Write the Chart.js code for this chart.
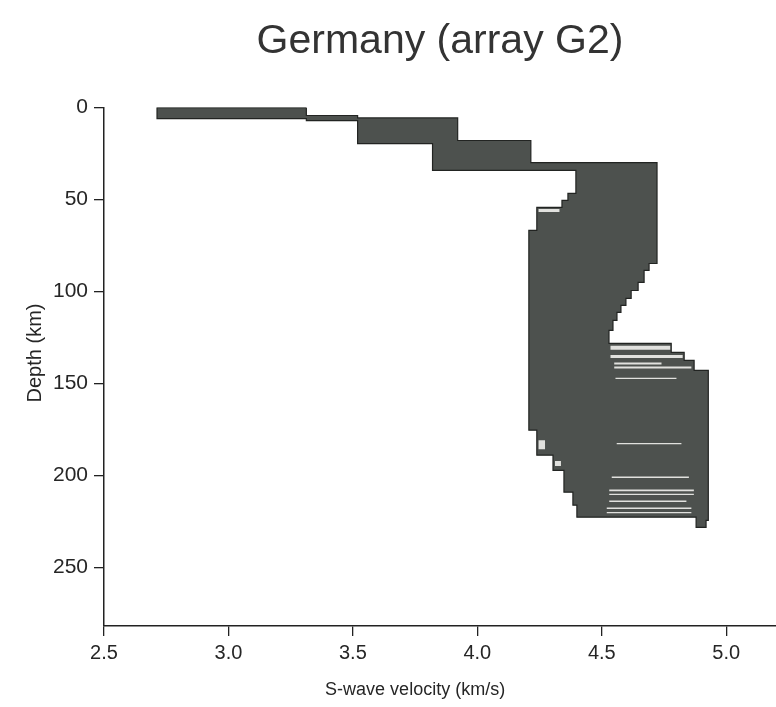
<!DOCTYPE html>
<html lang="en">
<head>
<meta charset="UTF-8">
<title>Germany (array G2)</title>
<script src="https://cdn.jsdelivr.net/npm/chart.js"></script>
<style>
  html, body { margin: 0; padding: 0; background: #fff; }
  .perfil { width: 776px; height: 707px; }
</style>
</head>
<body>
<div class="perfil">
  <canvas id="vsPerfil" width="776" height="707"></canvas>
</div>
<script>
// Fast side of the model ensemble: layer interfaces (km) and S velocities (km/s)
const fastDepths = [0, 4.3, 5.6, 17.9, 29.9, 84.8, 88.6, 95.1, 99.5, 103.8, 107.6, 111.4, 115.8, 121.2, 128.3, 133.2, 137.5, 142.9, 224.5];
const fastVels = [3.313, 3.519, 3.921, 4.215, 4.722, 4.690, 4.670, 4.646, 4.618, 4.597, 4.577, 4.561, 4.545, 4.529, 4.779, 4.831, 4.871, 4.928];

// Slow side of the ensemble
const slowDepths = [0, 6.0, 7.1, 19.6, 34.2, 46.7, 50.5, 54.3, 66.8, 175.5, 189.1, 197.3, 209.2, 216.3, 222.8];
const slowVels = [2.713, 3.313, 3.519, 3.820, 4.396, 4.364, 4.340, 4.239, 4.207, 4.239, 4.304, 4.348, 4.384, 4.400];

// deepest models reaching below the rest
const baseVels = [4.919, 4.919, 4.879, 4.879];
const baseDepths = [224.5, 228.3, 228.3, 222.8];

// light gaps left between overlapping models
const gapDepths = [130.7, 135.4, 139.2, 141.4, 147.3, 182.8, 201.1, 208.2, 210.4, 214.1, 217.9, 220.3, 56.0, 183.4, 193.6];
const gapFrom = [4.535, 4.535, 4.550, 4.550, 4.555, 4.560, 4.540, 4.530, 4.530, 4.530, 4.520, 4.520, 4.246, 4.246, 4.312];
const gapTo = [4.775, 4.825, 4.740, 4.860, 4.800, 4.820, 4.850, 4.870, 4.870, 4.840, 4.860, 4.860, 4.330, 4.272, 4.336];
const gapWidths = [4, 3, 2, 2, 1.2, 1.2, 1.6, 1.6, 1.2, 1.5, 1.5, 1.2, 3, 9, 5];

const velocityTicks = [2.5, 3.0, 3.5, 4.0, 4.5, 5.0];
const depthTicks = [0, 50, 100, 150, 200, 250];

const fuente = "'Liberation Sans', Arial, Helvetica, sans-serif";
const tinta = '#262626';

// turn a layered model into a staircase of points
function escalones(depths, vels) {
  const pts = [];
  vels.forEach((v, i) => {
    pts.push({ x: v, y: depths[i] });
    pts.push({ x: v, y: depths[i + 1] });
  });
  return pts;
}

const ladoRapido = escalones(fastDepths, fastVels);
const ladoLento = escalones(slowDepths, slowVels).reverse();
const base = baseVels.map((v, i) => ({ x: v, y: baseDepths[i] }));
const contorno = [...ladoRapido, ...base, ...ladoLento, ladoRapido[0]];

const huecos = gapDepths.map((d, i) => ({
  data: [{ x: gapFrom[i], y: d }, { x: gapTo[i], y: d }],
  showLine: true,
  borderColor: 'rgba(238,238,234,0.92)',
  borderWidth: gapWidths[i],
  pointRadius: 0,
  fill: false,
  order: 0
}));

// axis titles: velocity title sits under the middle of the labelled ticks
const titulosEjes = {
  id: 'titulosEjes',
  afterDraw(chart) {
    const { ctx, scales: { x } } = chart;
    ctx.save();
    ctx.fillStyle = tinta;
    ctx.textAlign = 'center';
    ctx.textBaseline = 'middle';
    ctx.font = '18px ' + fuente;
    const medio = (velocityTicks[0] + velocityTicks[velocityTicks.length - 1]) / 2;
    ctx.fillText('S-wave velocity (km/s)', x.getPixelForValue(medio), 690);
    ctx.translate(35, 353);
    ctx.rotate(-Math.PI / 2);
    ctx.font = '20px ' + fuente;
    ctx.fillText('Depth (km)', 0, 0);
    ctx.restore();
  }
};

const ctx = document.getElementById('vsPerfil').getContext('2d');
new Chart(ctx, {
  type: 'scatter',
  data: {
    datasets: [{
      data: contorno,
      showLine: true,
      tension: 0,
      borderColor: '#222422',
      borderWidth: 1.2,
      backgroundColor: '#4d514e',
      pointRadius: 0,
      fill: 'shape',
      order: 5
    }, ...huecos]
  },
  options: {
    responsive: false,
    animation: false,
    devicePixelRatio: 1,
    layout: { padding: 0 },
    plugins: {
      legend: { display: false },
      tooltip: { enabled: false },
      title: {
        display: true,
        text: 'Germany (array G2)',
        fullSize: false,
        color: '#333',
        font: { family: fuente, size: 41, weight: 'normal' },
        padding: { top: 17, bottom: 41.4 }
      }
    },
    scales: {
      x: {
        type: 'linear',
        position: 'bottom',
        min: 2.5,
        max: 5.2,
        afterBuildTicks: s => { s.ticks = velocityTicks.map(v => ({ value: v })); },
        afterFit: s => { s.height = 81; },
        ticks: {
          color: tinta,
          padding: 5,
          font: { family: fuente, size: 20 },
          callback: v => v.toFixed(1)
        },
        grid: { display: true, drawOnChartArea: false, drawTicks: true, tickLength: 10, color: '#222', lineWidth: 1.3 },
        border: { display: true, color: '#222', width: 1.5 },
        title: { display: false }
      },
      y: {
        type: 'linear',
        reverse: true,
        min: 0,
        max: 282,
        afterBuildTicks: s => { s.ticks = depthTicks.map(v => ({ value: v })); },
        afterFit: s => { s.width = 104; },
        ticks: {
          color: tinta,
          padding: 6,
          font: { family: fuente, size: 21 }
        },
        grid: { display: true, drawOnChartArea: false, drawTicks: true, tickLength: 10, color: '#222', lineWidth: 1.3 },
        border: { display: true, color: '#222', width: 1.5 },
        title: { display: false }
      }
    }
  },
  plugins: [titulosEjes]
});
</script>
</body>
</html>
